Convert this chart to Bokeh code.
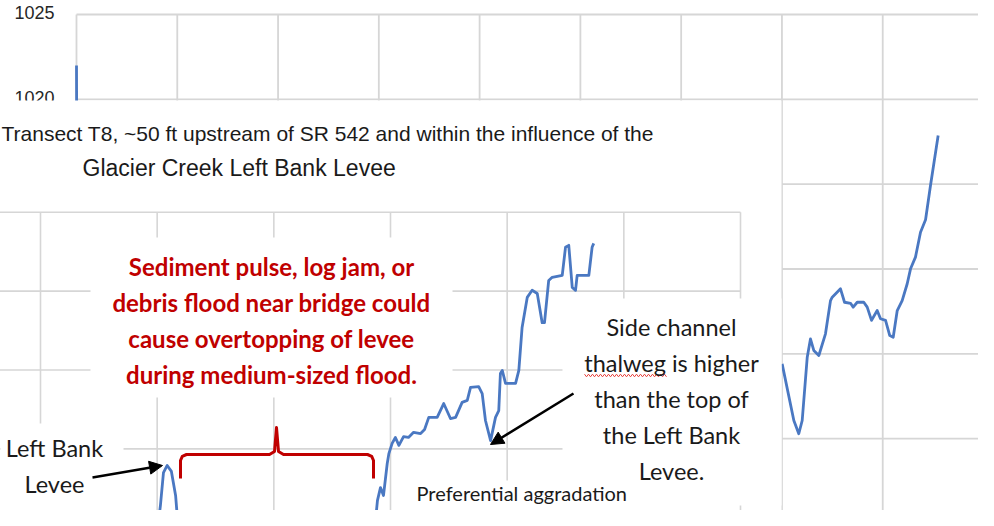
import numpy as np
from bokeh.plotting import figure
from bokeh.models import Range1d, Label, Arrow, NormalHead
from bokeh.core.properties import value
from bokeh.embed import file_html
from bokeh.resources import INLINE

NAN = float("nan")

# ---------------- data: background profile (only partly visible) ----------------
A_XTICKS = [0, 100, 200, 300, 400, 500, 600, 700, 800, 900]
A_YTICKS = [995, 1000, 1005, 1010, 1015, 1020, 1025]
A_YLABELS = [1020, 1025]          # the only tick labels not covered by the pasted chart
A_STATION = [0.0, 0.5, NAN,
             700.2, 711.8, 716.7, 720.1, 725.1, 728.3, 731.6, 736.6, 743.2, 748.2,
             749.9, 758.1, 762.1, 768.1, 770.7, 774.7, 781.2, 784.6, 788.9, 794.5,
             797.8, 802.8, 807.0, 810.4, 814.4, 819.3, 824.3, 827.6, 832.5, 837.5,
             842.5, 847.4, 855.0]
A_ELEV = [1022.0, 1012.0, NAN,
          1004.41, 1001.07, 1000.29, 1001.07, 1004.80, 1005.88, 1005.20, 1004.90, 1006.18, 1008.14,
          1008.34, 1008.83, 1008.04, 1007.98, 1007.75, 1008.04, 1008.04, 1007.75, 1006.97, 1007.55,
          1007.07, 1006.97, 1006.08, 1005.98, 1007.55, 1008.14, 1009.13, 1010.01, 1010.70, 1012.17,
          1012.90, 1014.92, 1017.87]

# ---------------- data: Transect T8 profile ----------------
B_XTICKS = [-50, 0, 50, 100, 150, 200, 250, 300]
B_YTICKS = [990, 992, 994, 996, 998, 1000, 1002]
B_STATION = [8.6, 21.4, 27.0, 32.1, 47.1, 50.1, 51.4, 52.7, 54.3, 56.1,
             57.9, 59.1, 60.9, 90.0, 122.6, 124.7, 126.4, 128.1, 130.3, 137.1,
             142.3, 143.6, 144.4, 145.7, 147.0, 148.6, 149.3, 150.7, 152.1, 153.6,
             155.6, 157.7, 159.9, 162.9, 164.6, 166.4, 170.0, 172.8, 175.7, 177.9,
             180.7, 182.9, 184.3, 187.8, 189.3, 190.7, 192.9, 195.0, 196.4, 197.1,
             197.9, 199.3, 203.6, 205.0, 206.4, 208.6, 210.7, 212.9, 215.0, 216.0,
             217.8, 219.3, 223.6, 225.0, 226.4, 227.9, 229.3, 230.0, 235.0, 236.4,
             237.1]
B_ELEV = [993.17, 993.88, 994.11, 993.88, 993.17, 993.93, 994.57, 995.40, 995.58, 995.43,
          994.82, 993.93, 992.92, 992.66, 993.80, 994.19, 994.36, 994.13, 993.67, 993.55,
          993.80, 994.19, 994.69, 995.02, 994.82, 995.63, 995.88, 996.14, 996.29, 996.09,
          996.31, 996.29, 996.42, 996.39, 996.49, 996.80, 996.80, 997.15, 996.77, 996.80,
          997.18, 997.23, 997.56, 997.58, 997.40, 996.72, 996.21, 996.80, 996.97, 997.91,
          997.99, 997.66, 997.66, 997.99, 999.08, 999.84, 1000.02, 999.94, 999.20, 999.20,
          1000.27, 1000.35, 1000.40, 1001.11, 1001.16, 1000.09, 1000.02, 1000.40, 1000.40, 1001.11,
          1001.21]

TITLE_LINES = ["Transect T8, ~50 ft upstream of SR 542 and within the influence of the",
               "Glacier Creek Left Bank Levee"]
RED_NOTE = ["Sediment pulse, log jam, or", "debris flood near bridge could",
            "cause overtopping of levee", "during medium-sized flood."]
SIDE_NOTE = ["Side channel", "thalweg is higher", "than the top of", "the Left Bank", "Levee."]
LEVEE_NOTE = ["Left Bank", "Levee"]
BOTTOM_NOTE = ["Preferential aggradation"]

# ---------------- layout (canvas pixels, origin top-left) ----------------
W, H = 978, 510
PAGE_X = (0, W)
PAGE_Y = (H, 0)          # bottom, top
A_MAP_X = (0, 76, 900, 983)        # value, pixel, value, pixel
A_MAP_Y = (1025, 14, 995, 523)
B_MAP_X = (0, 40, 300, 740)
B_MAP_Y = (1002, 211.7, 994, 527.3)

BLUE = "#4a78c2"
GRID = "#d6d6d6"
RED = "#c00000"
INK = "#1a1a1a"


def fit(v0, p0, v1, p1, lo, hi):
    k = (v1 - v0) / (p1 - p0)
    return Range1d(start=v0 + (lo - p0) * k, end=v0 + (hi - p0) * k)


p = figure(width=W, height=H, output_backend="svg", toolbar_location=None, tools="",
           x_range=fit(*A_MAP_X, *PAGE_X), y_range=fit(*A_MAP_Y, *PAGE_Y),
           x_axis_location=None, y_axis_location=None, title=None,
           min_border=0, outline_line_color=None,
           background_fill_color="white", border_fill_color="white")
p.grid.visible = False
p.extra_x_ranges = {"b": fit(*B_MAP_X, *PAGE_X), "px": Range1d(*PAGE_X)}
p.extra_y_ranges = {"b": fit(*B_MAP_Y, *PAGE_Y), "px": Range1d(*PAGE_Y)}
PX = dict(x_range_name="px", y_range_name="px")
BR = dict(x_range_name="b", y_range_name="b")

# ---- background chart: grid, tick labels, line
nx, ny = len(A_XTICKS), len(A_YTICKS)
p.segment(x0=A_XTICKS, x1=A_XTICKS, y0=[A_YTICKS[0]] * nx, y1=[A_YTICKS[-1]] * nx,
          line_color=GRID, line_width=1.8, level="image")
p.segment(x0=[A_XTICKS[0]] * ny, x1=[A_XTICKS[-1]] * ny, y0=A_YTICKS, y1=A_YTICKS,
          line_color=GRID, line_width=1.8, level="image")
p.text(x=[A_XTICKS[0]] * len(A_YLABELS), y=A_YLABELS, text=[str(v) for v in A_YLABELS],
       x_offset=-22, y_offset=-2, text_align="right", text_baseline="middle",
       text_font=value("Liberation Sans"), text_font_size="18px", text_color="#262626",
       level="image")
p.line(np.array(A_STATION), np.array(A_ELEV), line_color=BLUE, line_width=2.8,
       line_join="round", level="underlay")

# ---- pasted Transect T8 chart on top
PASTE_BOX = (0, 781, 100, 530)          # left, right, top, bottom
p.quad(left=[PASTE_BOX[0]], right=[PASTE_BOX[1]], top=[PASTE_BOX[2]], bottom=[PASTE_BOX[3]],
       fill_color="white", line_color=None, level="glyph", **PX)

mx, my = len(B_XTICKS), len(B_YTICKS)
p.segment(x0=B_XTICKS, x1=B_XTICKS, y0=[B_YTICKS[0]] * mx, y1=[B_YTICKS[-1]] * mx,
          line_color=GRID, line_width=1.6, level="guide", **BR)
p.segment(x0=[B_XTICKS[0]] * my, x1=[B_XTICKS[-1]] * my, y0=B_YTICKS, y1=B_YTICKS,
          line_color=GRID, line_width=1.6, level="guide", **BR)

# white text boxes that hide the grid behind the callouts
NOTE_BOXES = [(90, 452, 237, 397), (0, 123, 423, 513), (562, 781, 298, 505), (400, 720, 480, 530)]
p.quad(left=[b[0] for b in NOTE_BOXES], right=[b[1] for b in NOTE_BOXES],
       top=[b[2] for b in NOTE_BOXES], bottom=[b[3] for b in NOTE_BOXES],
       fill_color="white", line_color=None, level="annotation", **PX)

p.line(B_STATION, B_ELEV, line_color=BLUE, line_width=2.8, line_join="round",
       level="annotation", **BR)


def add_lines(lines, x, y0, dy, align, font, size, color, style="normal"):
    for i, t in enumerate(lines):
        p.add_layout(Label(x=x, y=y0 + i * dy, text=t, text_align=align,
                           text_baseline="alphabetic", text_font=font,
                           text_font_size=f"{size}px", text_font_style=style,
                           text_color=color, level="overlay", **PX))


add_lines(TITLE_LINES[:1], 1, 133, 0, "left", "Liberation Sans", 21, INK)
add_lines(TITLE_LINES[1:], 82, 167, 0, "left", "Liberation Sans", 23, INK)
add_lines(RED_NOTE, 271, 266, 36, "center", "Lato", 24, RED, "bold")
add_lines(SIDE_NOTE, 671, 326, 36, "center", "Lato", 23.5, INK)
add_lines(LEVEE_NOTE, 54, 447, 36, "center", "Lato", 23.5, INK)
add_lines(BOTTOM_NOTE, 416, 492, 0, "left", "Lato", 20, INK)

# spell-check squiggle under "thalweg"
SQ_X0, SQ_X1, SQ_Y, SQ_STEP, SQ_AMP = 584, 667, 375, 2.0, 1.3
sq_x = np.arange(SQ_X0, SQ_X1, SQ_STEP)
sq_y = SQ_Y + SQ_AMP * np.where(np.arange(len(sq_x)) % 2 == 0, -1, 1)
p.line(sq_x, sq_y, line_color="#e8413c", line_width=1, level="overlay", **PX)

# red curly bracket over the protected area
BR_L, BR_R, BR_TOP, BR_HOOK, BR_TIP, BR_MID, BR_RAD = 180, 373, 454, 478, 427, 276, 6
bx = [BR_L, BR_L, BR_L + 0.3 * BR_RAD, BR_L + BR_RAD, BR_MID - 7, BR_MID - 2, BR_MID,
      BR_MID + 2, BR_MID + 7, BR_R - BR_RAD, BR_R - 0.3 * BR_RAD, BR_R, BR_R]
by = [BR_HOOK, BR_TOP + BR_RAD, BR_TOP + 0.3 * BR_RAD, BR_TOP, BR_TOP, BR_TOP - 3, BR_TIP,
      BR_TOP - 3, BR_TOP, BR_TOP, BR_TOP + 0.3 * BR_RAD, BR_TOP + BR_RAD, BR_HOOK]
p.line(bx, by, line_color=RED, line_width=3, line_join="round", level="overlay", **PX)

# arrows
ARROWS = [((92, 477), (162, 465)), ((573, 393), (490, 444))]
for (xs, ys), (xe, ye) in ARROWS:
    p.add_layout(Arrow(end=NormalHead(size=13, fill_color="black", line_color="black", line_width=1),
                       x_start=xs, y_start=ys, x_end=xe, y_end=ye, line_color="black",
                       line_width=2.5, level="overlay", **PX))

open("out.html", "w").write(file_html(p, INLINE))
